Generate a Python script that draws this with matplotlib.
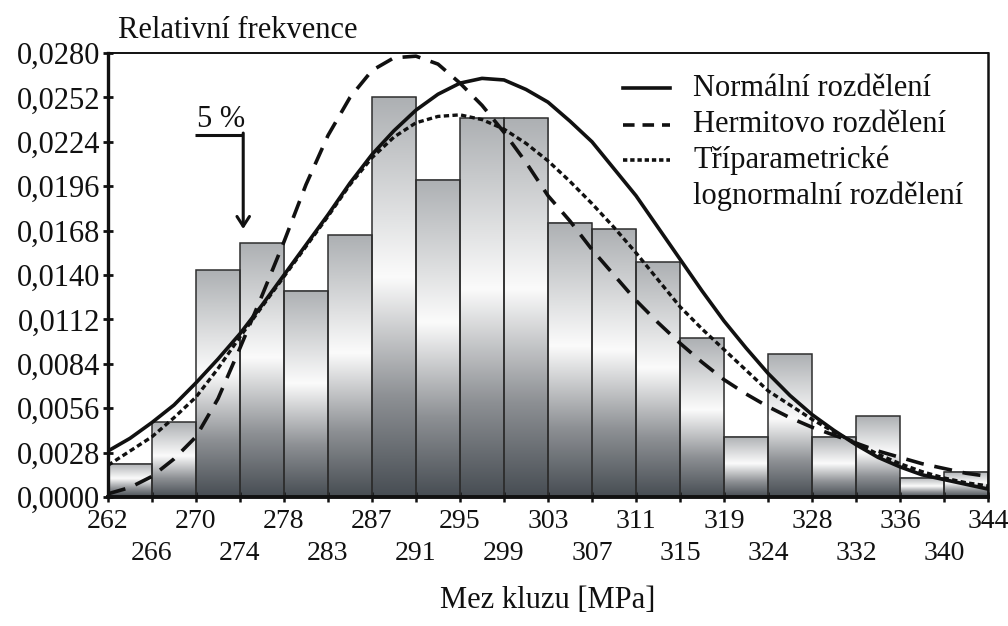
import numpy as np
import matplotlib
matplotlib.use('Agg')
import matplotlib.pyplot as plt
from matplotlib.colors import LinearSegmentedColormap
from matplotlib.ticker import FuncFormatter

plt.rcParams['font.family'] = ['Liberation Serif', 'DejaVu Serif']

# histogram of yield strength, 20 classes from 262 to 344 MPa
edge_labels = ['262', '266', '270', '274', '278', '283', '287', '291', '295', '299',
               '303', '307', '311', '315', '319', '324', '328', '332', '336', '340', '344']
rel_freq = [0.0021, 0.0047, 0.0143, 0.0160, 0.0130, 0.0165, 0.0252, 0.0200, 0.0239, 0.0239,
            0.0173, 0.0169, 0.0148, 0.0100, 0.0038, 0.0090, 0.0038, 0.0051, 0.0012, 0.0016]

# fitted densities, sampled every half class
curve_x = np.linspace(262, 344, 41)
normal = [0.0029, 0.0037, 0.0047, 0.0058, 0.0072, 0.0087, 0.0103, 0.0121, 0.0140, 0.0159,
          0.0178, 0.0198, 0.0216, 0.0231, 0.0244, 0.0254, 0.0261, 0.0264, 0.0263, 0.0257,
          0.0249, 0.0237, 0.0224, 0.0207, 0.0190, 0.0170, 0.0150, 0.0130, 0.0111, 0.0094,
          0.0078, 0.0064, 0.0052, 0.0042, 0.0033, 0.0025, 0.0019, 0.0014, 0.0011, 0.0008,
          0.0005]
hermite = [0.0002, 0.0006, 0.0013, 0.0024, 0.0038, 0.0062, 0.0094, 0.0127, 0.0161, 0.0197,
           0.0228, 0.0252, 0.0269, 0.0277, 0.0278, 0.0273, 0.0261, 0.0247, 0.0230, 0.0211,
           0.0190, 0.0174, 0.0156, 0.0140, 0.0124, 0.0110, 0.0097, 0.0085, 0.0074, 0.0065,
           0.0057, 0.0050, 0.0044, 0.0039, 0.0034, 0.0029, 0.0025, 0.0021, 0.0018, 0.0015,
           0.0013]
lognormal = [0.0020, 0.0029, 0.0038, 0.0050, 0.0063, 0.0081, 0.0101, 0.0120, 0.0139, 0.0158,
             0.0177, 0.0197, 0.0214, 0.0227, 0.0236, 0.0240, 0.0241, 0.0238, 0.0232, 0.0223,
             0.0212, 0.0199, 0.0185, 0.0170, 0.0154, 0.0137, 0.0120, 0.0106, 0.0093, 0.0080,
             0.0067, 0.0058, 0.0049, 0.0041, 0.0034, 0.0027, 0.0021, 0.0016, 0.0012, 0.0009,
             0.0007]

edges = np.linspace(262, 344, len(edge_labels))
width = edges[1] - edges[0]

fig = plt.figure(figsize=(10.08, 6.26), dpi=100)
ax = fig.add_axes([108 / 1008, 1 - 497 / 626, 880 / 1008, 444 / 626])

# metallic gradient fill of the bars
shade = LinearSegmentedColormap.from_list(
    'shade', [(0.0, '#474d53'), (0.25, '#8d9094'), (0.55, '#fbfbfb'), (1.0, '#adb0b3')])
grad = np.linspace(0, 1, 256).reshape(-1, 1)
for left, h in zip(edges[:-1], rel_freq):
    ax.imshow(grad, extent=[left, left + width, 0, h], origin='lower', aspect='auto',
              cmap=shade, zorder=1, interpolation='bilinear')
ax.bar(edges[:-1], rel_freq, width=width, align='edge', fill=False,
       edgecolor='#2e2e2e', linewidth=1.1, zorder=2)

# density curves
ax.plot(curve_x, normal, color='#111111', lw=2.6, zorder=3)
ax.plot(curve_x, hermite, color='#111111', lw=2.6, dashes=(5, 3), zorder=3)
ax.plot(curve_x, lognormal, color='#111111', lw=2.4, dashes=(1.6, 1.0), zorder=3)

ax.set_xlim(262, 344)
ax.set_ylim(0, 0.028)

# y axis
ax.set_yticks(np.arange(0, 0.02801, 0.0028))
ax.yaxis.set_major_formatter(FuncFormatter(lambda v, p: f'{v:.4f}'.replace('.', ',')))
ax.tick_params(axis='y', direction='inout', length=7, width=2, pad=2, labelsize=22,
               colors='#111111')

# x axis, labels staggered in two rows
ax.set_xticks(edges[::2])
ax.set_xticklabels(edge_labels[::2])
ax.set_xticks(edges[1::2], minor=True)
ax.set_xticklabels(edge_labels[1::2], minor=True)
ax.tick_params(axis='x', which='major', direction='inout', length=7, width=1.8, pad=5,
               labelsize=20, colors='#111111')
ax.tick_params(axis='x', which='minor', direction='inout', length=7, width=1.8, pad=28,
               labelsize=20, colors='#111111')

for side, lw in [('left', 2.4), ('bottom', 2.8), ('top', 1.4), ('right', 1.8)]:
    ax.spines[side].set_linewidth(lw)
    ax.spines[side].set_color('#111111')

fig.text(118 / 1008, 1 - 30 / 626, 'Relativní frekvence', ha='left', va='center',
         fontsize=22, color='#111111')
fig.text(548 / 1008, 1 - 601 / 626, 'Mez kluzu [MPa]', ha='center', va='center',
         fontsize=22, color='#111111')

# 5 % quantile marker
ax.plot([270.1, 274.6], [0.0228, 0.0228], color='#111111', lw=2.2, zorder=4,
        solid_capstyle='butt')
ax.annotate('', xy=(274.6, 0.0169), xytext=(274.6, 0.02295),
            arrowprops=dict(arrowstyle='->,head_length=0.7,head_width=0.45',
                            color='#111111', lw=2.2, shrinkA=0, shrinkB=0), zorder=4)
ax.text(272.5, 0.0238, '5 %', ha='center', va='center', fontsize=22, color='#111111',
        zorder=4)

# legend
ax_tr = ax.transAxes
leg_rows = [(0.921, 'Normální rozdělení', {}),
            (0.838, 'Hermitovo rozdělení', {'dashes': (3.2, 2.2)}),
            (0.759, 'Tříparametrické', {'dashes': (1.2, 0.8)})]
for y, label, style in leg_rows:
    ax.plot([0.585, 0.639], [y, y], transform=ax_tr, color='#111111', lw=2.6, **style)
    ax.text(0.665, y, label, transform=ax_tr, ha='left', va='center', fontsize=22,
            color='#111111')
ax.text(0.665, 0.678, 'lognormalní rozdělení', transform=ax_tr, ha='left', va='center',
        fontsize=22, color='#111111')

fig.savefig('out.png', dpi=100)
